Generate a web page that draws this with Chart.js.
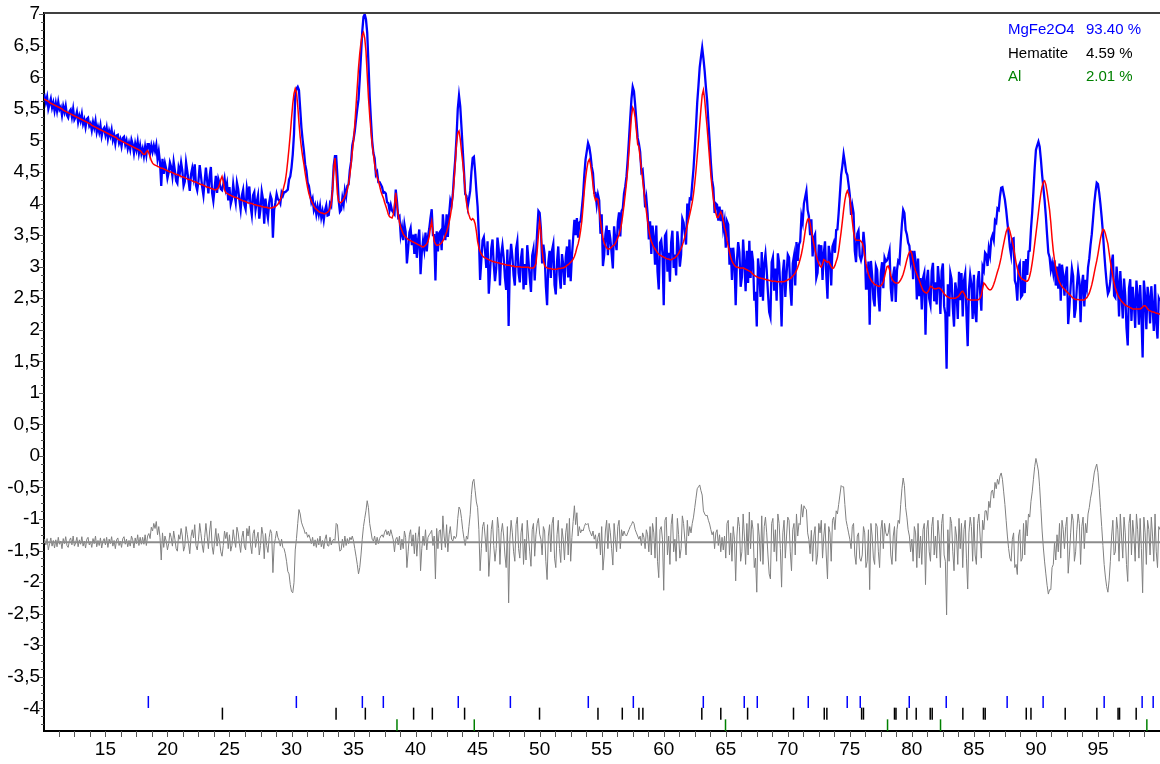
<!DOCTYPE html>
<html>
<head>
<meta charset="utf-8">
<title>MgFe2O4 refinement</title>
<script src="https://cdn.jsdelivr.net/npm/chart.js@4.4.0/dist/chart.umd.min.js"></script>
<style>
  html, body { margin: 0; padding: 0; background: #fff; }
  canvas { display: block; }
</style>
</head>
<body>
<canvas id="chart" width="1160" height="764"></canvas>
<script>
// 2theta grid of the scan (one value every 0.1 degree, 10 -> 100)
const thetaStart = 10;
const thetaStep = 0.1;

// calculated profile (red), one line per degree
const yCalc = [
  5.66,5.65,5.64,5.63,5.62,5.60,5.59,5.58,5.57,5.56,
  5.55,5.54,5.53,5.52,5.51,5.50,5.48,5.47,5.46,5.45,
  5.44,5.43,5.42,5.41,5.40,5.39,5.38,5.37,5.36,5.35,
  5.34,5.33,5.32,5.31,5.30,5.29,5.28,5.27,5.26,5.24,
  5.23,5.22,5.21,5.20,5.19,5.18,5.17,5.16,5.15,5.14,
  5.13,5.12,5.11,5.10,5.09,5.08,5.07,5.06,5.05,5.04,
  5.02,5.01,5.00,4.99,4.98,4.97,4.96,4.95,4.94,4.93,
  4.92,4.91,4.90,4.89,4.88,4.87,4.86,4.85,4.84,4.82,
  4.79,4.78,4.78,4.82,4.84,4.80,4.74,4.68,4.64,4.62,
  4.61,4.60,4.59,4.58,4.57,4.56,4.56,4.55,4.54,4.53,
  4.52,4.51,4.50,4.50,4.49,4.48,4.47,4.46,4.46,4.45,
  4.44,4.43,4.42,4.42,4.41,4.40,4.39,4.38,4.38,4.37,
  4.36,4.35,4.34,4.34,4.33,4.32,4.31,4.30,4.30,4.29,
  4.28,4.27,4.26,4.26,4.25,4.24,4.23,4.23,4.22,4.22,
  4.23,4.25,4.30,4.38,4.43,4.35,4.22,4.17,4.16,4.15,
  4.14,4.13,4.12,4.11,4.10,4.10,4.09,4.08,4.07,4.06,
  4.05,4.04,4.04,4.03,4.02,4.01,4.01,4.00,4.00,3.99,
  3.98,3.98,3.97,3.97,3.96,3.96,3.95,3.95,3.94,3.94,
  3.94,3.93,3.93,3.93,3.93,3.94,3.94,3.95,3.97,3.99,
  4.02,4.06,4.12,4.20,4.28,4.36,4.50,4.68,4.88,5.10,
  5.35,5.58,5.74,5.82,5.76,5.55,5.28,5.05,4.88,4.74,
  4.62,4.48,4.36,4.25,4.16,4.09,4.04,4.00,3.96,3.93,
  3.91,3.89,3.87,3.86,3.85,3.85,3.84,3.84,3.85,3.86,
  3.88,3.92,4.00,4.20,4.55,4.72,4.45,4.15,4.03,4.01,
  4.02,4.04,4.07,4.11,4.16,4.22,4.32,4.45,4.62,4.82,
  5.00,5.25,5.55,5.85,6.15,6.38,6.55,6.67,6.71,6.62,
  6.42,6.05,5.68,5.40,5.15,4.94,4.78,4.62,4.50,4.42,
  4.36,4.28,4.20,4.14,4.09,4.02,3.96,3.90,3.83,3.79,
  3.78,3.77,3.82,3.98,4.17,3.95,3.82,3.70,3.62,3.57,
  3.52,3.49,3.47,3.45,3.43,3.42,3.41,3.40,3.39,3.38,
  3.37,3.36,3.35,3.34,3.33,3.32,3.31,3.32,3.34,3.36,
  3.40,3.48,3.62,3.72,3.55,3.40,3.36,3.34,3.34,3.35,
  3.36,3.38,3.41,3.45,3.50,3.55,3.62,3.70,3.80,3.93,
  4.12,4.35,4.65,4.95,5.12,5.15,5.02,4.83,4.65,4.45,
  4.20,4.02,3.90,3.82,3.76,3.74,3.76,3.74,3.68,3.56,
  3.40,3.30,3.24,3.20,3.17,3.15,3.14,3.13,3.12,3.11,
  3.10,3.09,3.08,3.08,3.07,3.07,3.06,3.06,3.05,3.05,
  3.04,3.04,3.03,3.03,3.02,3.02,3.02,3.01,3.01,3.01,
  3.00,3.00,3.00,3.00,3.00,2.99,2.99,2.99,2.99,2.99,
  2.99,2.99,2.98,2.98,2.98,2.98,3.00,3.05,3.25,3.50,
  3.72,3.55,3.25,3.10,3.02,2.99,2.98,2.97,2.97,2.97,
  2.96,2.96,2.96,2.96,2.96,2.97,2.97,2.97,2.98,2.98,
  2.99,3.00,3.02,3.03,3.05,3.07,3.09,3.12,3.16,3.22,
  3.30,3.36,3.45,3.57,3.72,3.95,4.20,4.40,4.55,4.66,
  4.70,4.62,4.48,4.30,4.12,4.05,4.08,4.06,3.90,3.72,
  3.58,3.45,3.38,3.33,3.30,3.28,3.28,3.29,3.31,3.33,
  3.34,3.37,3.41,3.46,3.51,3.58,3.68,3.82,3.98,4.15,
  4.33,4.55,4.82,5.10,5.38,5.52,5.48,5.36,5.15,4.94,
  4.90,4.72,4.55,4.38,4.20,4.04,3.88,3.72,3.58,3.47,
  3.40,3.35,3.31,3.28,3.25,3.22,3.20,3.18,3.17,3.16,
  3.15,3.14,3.13,3.12,3.12,3.11,3.11,3.12,3.13,3.14,
  3.16,3.18,3.21,3.25,3.29,3.34,3.40,3.47,3.55,3.65,
  3.75,3.83,3.92,4.02,4.15,4.32,4.52,4.75,4.99,5.25,
  5.50,5.72,5.80,5.65,5.42,5.20,4.95,4.70,4.45,4.25,
  4.08,3.95,3.85,3.78,3.78,3.83,3.87,3.82,3.72,3.62,
  3.55,3.42,3.32,3.23,3.15,3.09,3.05,3.02,3.00,2.99,
  2.99,2.98,2.98,2.98,2.98,2.97,2.96,2.95,2.94,2.93,
  2.92,2.90,2.88,2.86,2.85,2.84,2.83,2.82,2.82,2.81,
  2.81,2.80,2.80,2.79,2.79,2.78,2.78,2.77,2.77,2.77,
  2.77,2.76,2.76,2.76,2.76,2.76,2.76,2.76,2.77,2.78,
  2.79,2.80,2.81,2.83,2.85,2.87,2.90,2.94,2.99,3.05,
  3.12,3.20,3.30,3.42,3.56,3.68,3.75,3.76,3.68,3.56,
  3.46,3.36,3.26,3.17,3.10,3.05,3.01,2.99,3.04,3.11,
  3.10,3.08,3.07,3.08,3.04,3.00,2.97,2.98,3.02,3.08,
  3.14,3.25,3.40,3.55,3.72,3.90,4.05,4.15,4.20,4.15,
  4.08,3.92,3.72,3.55,3.45,3.42,3.42,3.42,3.42,3.40,
  3.38,3.30,3.18,3.05,2.95,2.88,2.83,2.79,2.76,2.74,
  2.72,2.71,2.70,2.69,2.69,2.70,2.72,2.76,2.84,2.93,
  3.00,3.01,2.95,2.86,2.80,2.77,2.75,2.74,2.74,2.74,
  2.76,2.79,2.83,2.88,2.95,3.03,3.11,3.18,3.23,3.25,
  3.20,3.10,3.00,2.93,2.88,2.83,2.78,2.72,2.67,2.62,
  2.60,2.59,2.58,2.60,2.64,2.69,2.68,2.66,2.65,2.65,
  2.65,2.66,2.66,2.65,2.63,2.60,2.57,2.55,2.53,2.52,
  2.51,2.50,2.50,2.50,2.50,2.50,2.51,2.52,2.54,2.57,
  2.60,2.61,2.58,2.54,2.50,2.48,2.48,2.47,2.47,2.47,
  2.47,2.47,2.47,2.47,2.48,2.50,2.55,2.65,2.74,2.72,
  2.69,2.66,2.64,2.63,2.64,2.67,2.72,2.78,2.85,2.92,
  2.98,3.06,3.15,3.26,3.36,3.46,3.55,3.60,3.62,3.56,
  3.48,3.39,3.30,3.18,3.06,2.97,2.90,2.85,2.82,2.80,
  2.79,2.78,2.77,2.77,2.79,2.85,2.94,3.06,3.20,3.36,
  3.52,3.68,3.85,4.02,4.16,4.27,4.34,4.36,4.30,4.18,
  4.04,3.90,3.70,3.45,3.25,3.10,2.98,2.88,2.80,2.75,
  2.71,2.68,2.66,2.64,2.62,2.60,2.58,2.56,2.54,2.52,
  2.50,2.49,2.48,2.48,2.48,2.47,2.47,2.47,2.47,2.47,
  2.49,2.51,2.54,2.58,2.64,2.71,2.80,2.90,3.00,3.09,
  3.20,3.32,3.44,3.53,3.59,3.58,3.52,3.44,3.36,3.22,
  3.08,2.96,2.84,2.74,2.66,2.60,2.55,2.51,2.48,2.45,
  2.43,2.41,2.39,2.38,2.37,2.36,2.35,2.34,2.33,2.33,
  2.33,2.33,2.33,2.33,2.33,2.34,2.36,2.38,2.38,2.36,
  2.33,2.31,2.30,2.29,2.28,2.28,2.27,2.26,2.26,2.25,
  2.25
];

// observed minus calculated, same grid (blue = red + this, grey = this shifted)
const yResid = [
  0,.05,-.04,.06,-.12,-.02,.07,-.06,.03,-.09,
  .04,-.07,.08,-.03,.02,-.10,.06,-.02,.09,-.05,
  -.08,.03,.07,-.04,.10,-.06,-.01,.08,-.07,.04,
  -.03,.09,-.06,.02,-.09,.05,.08,-.04,.01,-.08,
  .06,-.02,.10,-.07,.03,-.05,.07,-.09,.02,.06,
  -.04,.08,-.08,.05,-.02,.09,-.06,.03,-.10,.04,
  .07,-.05,.02,-.08,.06,.09,-.03,.05,-.07,.03,
  -.06,.10,.04,-.09,.07,-.02,.12,-.05,.08,-.03,
  .08,-.03,.12,-.05,.10,.14,.06,.24,.18,.30,
  .22,.33,.12,.25,.08,-.28,.15,-.08,.10,.02,
  -.12,-.02,.15,.08,-.06,.18,.05,-.10,-.14,.12,
  .05,.22,.10,-.14,-.06,.25,.12,-.02,-.18,.09,
  .20,.07,.28,-.05,-.12,.04,.30,.14,-.04,-.16,
  .08,.30,.10,-.10,.18,.34,-.06,-.19,.02,.22,
  -.06,.14,.02,-.15,-.22,-.05,.18,.06,.16,-.10,
  .12,-.14,-.05,.20,.05,-.08,.24,.15,-.02,-.16,
  .08,.18,-.06,-.12,.22,.10,.26,-.04,-.18,.14,
  .20,-.08,.06,.16,-.20,-.05,.24,.12,-.26,.14,
  -.05,-.16,.08,.20,.14,-.48,-.04,.06,.18,.08,
  .03,-.06,.05,-.08,-.10,-.18,-.30,-.46,-.50,-.67,
  -.78,-.80,-.64,-.12,.06,.30,.52,.45,.32,.26,
  .21,.14,.16,.08,.12,.06,-.02,.08,-.06,.04,
  -.08,.06,-.04,.10,-.07,.03,-.10,.05,.12,-.05,
  -.06,.08,-.04,.02,.05,.03,.30,.28,.02,-.14,
  -.12,.05,-.08,.10,-.05,.06,-.02,.08,.04,.10,
  .02,-.10,-.22,-.35,-.50,-.40,-.20,.05,.25,.38,
  .50,.66,.55,.30,.18,.05,.02,.10,-.04,.08,
  -.02,.06,.10,.12,.08,.16,.20,.12,.18,.10,
  .20,.12,.04,-.15,.05,.08,-.04,.10,-.12,.05,
  -.10,.18,.08,-.40,-.15,.12,.20,-.06,.12,-.18,
  .15,-.22,.08,.25,-.45,-.10,.10,-.05,.20,-.12,
  .08,.12,.15,.19,-.05,.10,-.58,.22,-.10,.18,
  .20,-.12,.42,.10,-.08,.28,-.15,.12,.25,.05,
  .02,.10,.06,.10,.38,.56,.52,.38,.20,.06,
  -.05,.10,.05,.25,.44,.76,.96,1.00,.82,.64,
  .55,.20,-.45,-.10,.25,.32,.10,-.15,.28,-.54,
  -.20,.20,.35,-.05,-.30,-.10,.40,.22,-.35,.15,
  .30,.10,-.20,-.40,.25,-.96,.05,.35,.15,-.15,
  -.30,.28,.40,-.10,-.25,.15,.30,-.35,.05,-.28,
  .35,.10,-.15,-.38,.20,.30,-.22,.12,.30,.38,
  .13,.05,-.20,.25,.18,-.30,-.59,.10,.28,-.15,
  .30,.40,-.25,-.40,.12,.35,-.10,-.32,.22,.05,
  -.28,.15,.30,-.20,.38,-.30,.08,.33,.58,.28,
  .47,.10,.25,.15,.20,.18,.25,.30,.28,.30,
  .20,.15,.10,.18,.05,.12,-.10,.08,.15,-.20,
  .25,-.44,-.20,.18,.35,-.10,.30,.15,-.10,-.36,
  .30,.05,-.15,.25,.35,-.10,.20,.10,.18,.12,
  .10,.15,.20,.25,.28,.33,.30,.20,.15,.10,
  .05,.10,-.05,.15,.08,-.10,.20,.12,-.15,.25,
  -.20,.30,.15,-.25,.40,-.30,-.56,.20,.25,.05,
  -.76,.35,.40,-.20,.10,-.35,.28,.45,-.15,.05,
  -.30,.38,.12,-.25,-.10,.42,.30,.05,-.20,.35,
  .10,.25,.15,.30,.40,.55,.70,.85,.88,.91,
  .82,.75,.50,.45,.42,.43,.35,.29,.20,.12,
  .17,-.10,.15,.20,-.05,.12,-.15,.08,-.12,.10,
  -.25,.30,.35,-.20,.15,-.30,.25,.05,-.61,.10,
  .40,.25,-.30,-.15,.45,.10,-.35,.30,-.20,.48,
  -.10,.35,.20,-.40,-.25,-.79,.30,.10,-.30,.42,
  -.35,.25,.40,.15,-.20,-.50,-.58,.30,.38,-.15,
  .20,-.30,.45,.30,-.10,-.71,.15,.35,-.25,.10,
  .40,.35,-.15,-.45,.20,.30,-.20,.45,.10,.30,
  .28,.60,.40,.58,.54,.52,.15,.04,-.18,.19,
  -.30,.10,.25,-.35,-.20,.30,.15,.35,-.25,.10,
  .30,-.20,-.58,.25,.15,-.30,.35,.40,.20,.50,
  .45,.60,.75,.90,.88,.88,.60,.35,.25,.15,
  .05,-.10,.25,.30,-.20,-.35,.10,.15,-.25,-.30,
  -.20,.25,.15,-.40,-.30,.20,-.75,.30,.10,-.25,
  -.35,.30,.25,-.15,-.40,.20,.35,-.10,.30,.15,
  .10,.15,.30,-.20,-.35,.10,.25,-.30,.20,.35,
  .30,.60,.85,1.02,.90,.55,.40,.20,.10,-.15,
  .05,-.30,.25,.15,-.40,.30,-.25,.10,-.35,.20,
  .30,-.67,.20,.35,-.15,-.30,.25,.40,-.20,.10,
  -.25,.35,.10,-.40,.30,.45,-.20,-.30,-1.15,.20,
  -.30,.40,.30,-.15,-.45,.25,.10,-.35,.38,-.10,
  .30,-.40,.20,.35,-.25,-.74,.15,.40,.25,-.30,
  .40,-.20,-.35,.30,.45,.10,-.25,.35,.20,.50,
  .50,.35,.65,.55,.80,.83,.70,.95,.85,1.00,
  .92,1.05,1.10,1.00,.80,.60,.35,.10,-.10,-.25,
  -.30,.05,.15,-.40,-.35,-.51,.10,.20,-.30,-.25,
  .30,-.20,.35,.10,.45,.40,.65,.80,1.00,1.20,
  1.33,1.24,1.13,.88,.54,.18,-.09,-.31,-.50,-.68,
  -.82,-.75,-.75,-.40,-.35,.00,-.28,.12,-.15,.30,
  -.25,.35,.20,-.10,.25,.40,-.49,-.20,.15,.45,
  .35,-.30,-.15,.20,.45,.30,-.35,.25,.40,-.10,
  .30,.15,.45,.55,.70,.80,.95,1.10,1.18,1.24,
  1.11,.85,.55,.25,-.05,-.35,-.55,-.70,-.79,-.60,
  -.30,.10,.35,-.20,-.15,.40,.20,-.30,.45,.10,
  -.25,.40,.15,-.35,-.62,.30,.45,-.20,.35,.10,
  -.30,.45,.20,-.25,.38,-.10,-.80,.40,.15,-.35,
  .35,.20,-.20,.40,.10,-.30,.45,-.15,-.40,.25,
  .20
];

// the difference curve is drawn around this level
const diffOffset = -1.37;

// reflection positions of each phase (2theta)
const ticksMgFe2O4 = [18.46, 30.39, 35.71, 37.40, 43.44, 47.64, 53.92, 57.55, 63.19, 66.49, 67.54,
  71.65, 74.79, 75.84, 79.79, 82.77, 87.68, 90.58, 95.50, 98.56, 99.45];
const ticksHematite = [24.43, 33.59, 35.95, 39.84, 41.35, 43.95, 49.99, 54.70, 56.66, 58.00, 58.32,
  63.07, 64.60, 66.76, 70.46, 72.94, 73.15, 75.95, 76.10, 78.60, 78.72, 79.60, 80.35, 81.48, 81.64,
  84.11, 85.77, 85.91, 89.22, 89.60, 92.36, 94.91, 96.62, 96.74, 98.08];
const ticksAl = [38.50, 44.73, 64.98, 78.04, 82.31, 98.94];

// phase names and weight fractions
const phaseNames = ['MgFe2O4', 'Hematite', 'Al'];
const phasePercent = ['93.40 %', '4.59 %', '2.01 %'];
const phaseColors = ['#0000ff', '#000000', '#008000'];

// axis tick labels
const xTickValues = [15, 20, 25, 30, 35, 40, 45, 50, 55, 60, 65, 70, 75, 80, 85, 90, 95];
const yTickValues = [-4, -3.5, -3, -2.5, -2, -1.5, -1, -0.5, 0, 0.5, 1, 1.5, 2, 2.5, 3, 3.5, 4, 4.5, 5, 5.5, 6, 6.5, 7];

// vertical level of each row of reflection marks
const tickRows = [-3.90, -4.085, -4.27];

const FONT = 'Liberation Sans, Arial, sans-serif';

function thetaAt(i) {
  return Math.round((thetaStart + i * thetaStep) * 100) / 100;
}

const obsPoints = yCalc.map((c, i) => ({ x: thetaAt(i), y: c + yResid[i] }));
const calcPoints = yCalc.map((c, i) => ({ x: thetaAt(i), y: c }));
const diffPoints = yResid.map((d, i) => ({ x: thetaAt(i), y: d + diffOffset }));
const baseline = [{ x: thetaStart, y: diffOffset }, { x: 100, y: diffOffset }];

function tickSet(positions, row) {
  return positions.map(p => ({ x: p, y: tickRows[row] }));
}

function lineSet(data, color, width, order) {
  return {
    data: data, showLine: true, borderColor: color, borderWidth: width,
    pointRadius: 0, tension: 0, order: order
  };
}

function markSet(data, color) {
  return {
    data: data, showLine: false, pointStyle: 'line', rotation: 90,
    pointRadius: 6, borderColor: color, borderWidth: 1.5, order: 0
  };
}

// ticks, frame line and phase list
const decor = {
  id: 'decor',
  afterDraw(chart) {
    const { ctx, chartArea, scales } = chart;
    const x = scales.x, y = scales.y;
    ctx.save();

    ctx.strokeStyle = '#404040';
    ctx.lineWidth = 2;
    ctx.beginPath();
    ctx.moveTo(chartArea.left, chartArea.top);
    ctx.lineTo(chartArea.right, chartArea.top);
    ctx.stroke();

    ctx.strokeStyle = '#555';
    ctx.lineWidth = 1;
    ctx.beginPath();
    for (let k = 0; k <= 72; k++) {
      const v = 10 + k * 1.25;
      if (v < x.min || v > x.max) continue;
      const px = Math.round(x.getPixelForValue(v)) + 0.5;
      ctx.moveTo(px, chartArea.bottom);
      ctx.lineTo(px, chartArea.bottom + 6);
    }
    for (let k = -35; k <= 56; k++) {
      const v = k * 0.125;
      if (v < y.min || v > y.max) continue;
      const py = Math.round(y.getPixelForValue(v)) + 0.5;
      const len = k % 4 === 0 ? 5 : 3;
      ctx.moveTo(chartArea.left - len, py);
      ctx.lineTo(chartArea.left, py);
    }
    ctx.stroke();

    ctx.font = '15px ' + FONT;
    ctx.textBaseline = 'middle';
    ctx.textAlign = 'left';
    phaseNames.forEach((name, i) => {
      const rowY = 30 + i * 23.5;
      ctx.fillStyle = phaseColors[i];
      ctx.fillText(name, 1008, rowY);
      ctx.fillText(phasePercent[i], 1086, rowY);
    });
    ctx.restore();
  }
};

new Chart(document.getElementById('chart'), {
  type: 'scatter',
  data: {
    datasets: [
      lineSet(obsPoints, '#0000ff', 2.3, 3),
      lineSet(calcPoints, '#ff0000', 1.5, 2),
      lineSet(diffPoints, '#808080', 1, 4),
      lineSet(baseline, '#8c8c8c', 2, 1),
      markSet(tickSet(ticksMgFe2O4, 0), '#0000ff'),
      markSet(tickSet(ticksHematite, 1), '#000000'),
      markSet(tickSet(ticksAl, 2), '#008000')
    ]
  },
  options: {
    responsive: false,
    animation: false,
    events: [],
    layout: { autoPadding: false, padding: { top: 13, right: 0, left: 0, bottom: 0 } },
    plugins: { legend: { display: false }, tooltip: { enabled: false } },
    scales: {
      x: {
        type: 'linear', min: 10.05, max: 100,
        afterFit: s => { s.height = 33; s.paddingLeft = 0; s.paddingRight = 0; },
        afterBuildTicks: s => { s.ticks = xTickValues.map(v => ({ value: v })); },
        grid: { display: false, drawTicks: false },
        border: { display: true, color: '#000', width: 2 },
        ticks: { color: '#000', font: { family: FONT, size: 19 }, padding: 7, maxRotation: 0, autoSkip: false }
      },
      y: {
        type: 'linear', min: -4.36, max: 7.02,
        afterFit: s => { s.width = 44; s.paddingTop = 0; s.paddingBottom = 0; },
        afterBuildTicks: s => { s.ticks = yTickValues.map(v => ({ value: v })); },
        grid: { display: false, drawTicks: false },
        border: { display: true, color: '#000', width: 2 },
        ticks: {
          color: '#000', font: { family: FONT, size: 19 }, padding: 4, autoSkip: false,
          callback: v => String(v).replace('.', ',')
        }
      }
    }
  },
  plugins: [decor]
});
</script>
</body>
</html>
